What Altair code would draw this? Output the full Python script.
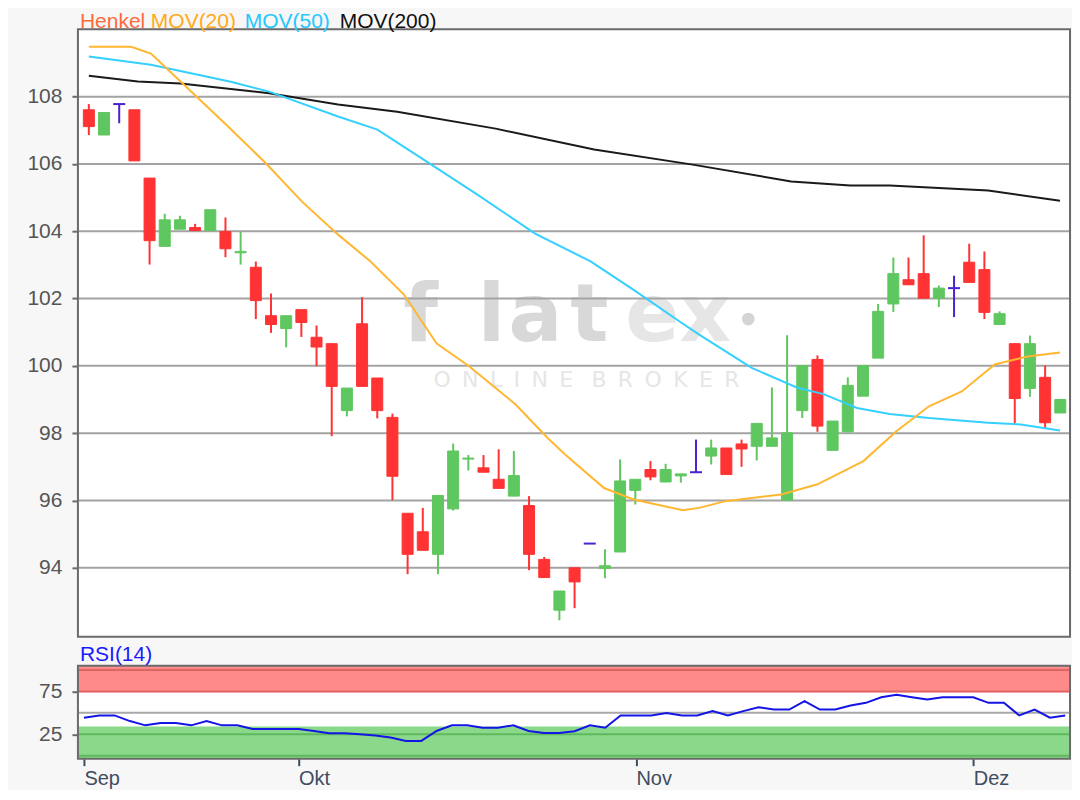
import altair as alt
import pandas as pd

FONT = "Liberation Sans"
WM_FONT = "DejaVu Sans"

# ---------------- data ----------------
opens = [107.61, 106.86, 107.78, 107.61, 105.58, 103.55, 104.06, 104.11, 104.02, 103.99,
         103.36, 102.93, 101.49, 101.11, 101.67, 100.85, 100.66, 98.67, 101.25, 99.64,
         98.47, 95.62, 95.07, 94.40, 95.75, 97.23, 96.97, 96.63, 96.13, 95.85,
         94.25, 92.74, 94.00, 94.72, 93.98, 94.47, 96.30, 96.92, 96.55, 96.73,
         96.84, 97.32, 97.56, 97.68, 97.61, 97.61, 96.01, 98.67, 100.19, 97.49,
         98.04, 99.10, 100.23, 101.84, 102.56, 102.74, 102.01, 102.31, 103.08, 102.86,
         101.23, 100.66, 99.33, 99.66, 98.60]
highs = [107.78, 107.53, 107.78, 107.61, 105.58, 104.52, 104.46, 104.22, 104.64, 104.41,
         103.99, 103.10, 102.15, 101.49, 101.67, 101.20, 100.66, 99.34, 102.04, 99.64,
         98.58, 95.62, 95.78, 96.15, 97.69, 97.35, 97.35, 97.52, 97.47, 96.13,
         94.32, 93.31, 94.00, 94.72, 94.55, 97.22, 96.63, 97.17, 97.09, 96.79,
         97.81, 97.81, 97.56, 97.81, 98.29, 99.36, 100.91, 100.01, 100.31, 98.36,
         99.66, 100.01, 101.84, 103.22, 103.22, 103.88, 102.39, 102.68, 103.63, 103.40,
         101.62, 100.66, 100.90, 100.01, 99.00]
lows = [106.86, 106.86, 107.21, 106.09, 103.01, 103.55, 104.06, 104.02, 104.02, 103.23,
        103.01, 101.39, 100.98, 100.55, 100.86, 99.99, 97.91, 98.50, 99.39, 98.44,
        96.01, 93.81, 94.52, 93.81, 95.70, 96.89, 96.84, 96.36, 96.13, 93.93,
        93.71, 92.44, 92.80, 94.72, 93.69, 94.47, 95.88, 96.60, 96.55, 96.53,
        96.84, 97.07, 96.77, 97.00, 97.19, 97.61, 96.01, 98.45, 98.04, 97.49,
        98.04, 99.10, 100.23, 101.60, 102.41, 102.01, 101.75, 101.45, 102.48, 101.39,
        101.23, 98.29, 99.08, 98.16, 98.60]
closes = [107.11, 107.53, 107.78, 106.09, 103.72, 104.34, 104.34, 104.02, 104.64, 103.48,
          103.40, 101.94, 101.23, 101.49, 101.29, 100.56, 99.39, 99.34, 99.39, 98.67,
          96.72, 94.40, 94.52, 96.15, 97.47, 97.26, 96.84, 96.36, 96.74, 94.40,
          93.71, 93.31, 93.58, 94.72, 94.06, 96.58, 96.63, 96.70, 96.92, 96.79,
          96.84, 97.56, 96.77, 97.53, 98.29, 97.86, 98.01, 100.01, 98.21, 98.36,
          99.42, 100.01, 101.62, 102.74, 102.41, 102.01, 102.31, 102.31, 102.48, 101.59,
          101.55, 99.03, 100.66, 98.31, 99.00]

ma20_pos = [0, 2.79, 4.09, 6.04, 9.07, 11.66, 14.04, 16.42, 18.56, 20.76, 22.9, 25.05,
            28.1, 30.24, 31.34, 33.94, 35.89, 39.13, 40.21, 41.94, 45.62, 48.0, 51.03,
            53.2, 55.35, 57.51, 59.68, 61.84, 63.98]
ma20_val = [109.48, 109.48, 109.28, 108.45, 107.16, 106.02, 104.88, 103.90, 103.10, 102.12,
            100.67, 99.99, 98.86, 97.85, 97.38, 96.37, 96.03, 95.71, 95.78, 95.98, 96.18,
            96.48, 97.17, 98.06, 98.80, 99.24, 100.04, 100.28, 100.40]

ma50_pos = [0, 4.09, 9.28, 11.88, 16.42, 19.01, 22.26, 25.5, 29.4, 33.08, 35.89, 38.92,
            40.21, 43.67, 46.68, 48.41, 50.6, 52.76, 55.35, 59.25, 61.39, 63.98]
ma50_val = [109.19, 108.95, 108.45, 108.15, 107.41, 107.02, 106.07, 105.12, 103.93, 103.10,
            102.26, 101.32, 100.93, 99.94, 99.35, 99.16, 98.75, 98.57, 98.45, 98.31,
            98.26, 98.08]

ma200_pos = [0, 3.23, 6.04, 11.88, 16.42, 20.31, 26.8, 33.29, 39.78, 46.27, 50.16, 52.76,
             59.25, 63.98]
ma200_val = [108.62, 108.45, 108.39, 108.10, 107.77, 107.55, 107.05, 106.43, 105.98, 105.48,
             105.36, 105.36, 105.21, 104.91]

rsi_val = [44.3, 47.0, 47.0, 40.4, 35.4, 38.1, 38.1, 35.4, 40.4, 35.4,
           35.4, 31.1, 31.1, 31.1, 31.1, 28.8, 26.1, 26.1, 25.0, 23.5,
           21.1, 17.2, 17.2, 28.8, 35.4, 35.4, 32.7, 32.7, 35.4, 28.8,
           26.5, 26.5, 28.5, 35.4, 32.7, 47.0, 47.0, 47.0, 49.7, 47.0,
           47.0, 52.0, 47.0, 52.0, 56.6, 53.9, 53.9, 63.6, 53.9, 53.9,
           58.6, 61.7, 68.2, 71.0, 68.2, 65.5, 68.2, 68.2, 68.2, 61.7,
           61.7, 47.0, 53.9, 44.3, 47.0]

month_pos = [0, 14, 36, 58]
month_names = ["Sep", "Okt", "Nov", "Dez"]
price_ticks = [94, 96, 98, 100, 102, 104, 106, 108]
price_frame = [91.95, 110.0]
rsi_ticks = [25, 75]
rsi_frame = [-3.5, 105.0]
zone_lo = [74, -3.5]
zone_hi = [105, 34]
zone_name = ["over", "under"]
level_val = [100, 75, 50, 25, 0]
level_kind = ["over", "over", "mid", "under", "under"]

legend_text = ["Henkel", "MOV(20)", "MOV(50)", "MOV(200)"]

# ---------------- styling ----------------
W = 993
H_MAIN, TOP_MAIN = 628, 20      # 20 px title strip above the 608 px price area
H_RSI, TOP_RSI = 118, 25        # 25 px title strip above the 93 px RSI area
GREEN, RED, PURPLE = "#5fc75f", "#ff3333", "#4a22d0"
C_MA20, C_MA50, C_MA200 = "#ffb732", "#35d0ff", "#1a1a1a"
FRAME = "#6b6b6b"
ZONE_COLORS = {"over": "#ff8a8a", "under": "#8ad98a"}
LEVEL_COLORS = {"over": "#e06464", "mid": "#a8a8a8", "under": "#5fb85f"}

# y scales extended upwards so the title strips sit inside the views
p_lo, p_hi = price_frame
p_top = p_hi + TOP_MAIN * (p_hi - p_lo) / (H_MAIN - TOP_MAIN)
r_lo, r_hi = rsi_frame
r_top = r_hi + TOP_RSI * (r_hi - r_lo) / (H_RSI - TOP_RSI)

n = len(opens)
candles = pd.DataFrame({"i": list(range(n)), "open": opens, "high": highs,
                        "low": lows, "close": closes})
candles["dir"] = ["up" if c > o else ("down" if c < o else "flat")
                  for o, c in zip(opens, closes)]

xs = alt.Scale(domain=[-0.39, 64.31], nice=False, zero=False)
ys = alt.Scale(domain=[p_lo, p_top], nice=False, zero=False)
dir_scale = alt.Scale(domain=["up", "down", "flat"], range=[GREEN, RED, PURPLE])

y_axis = alt.Axis(values=price_ticks, grid=False, domain=False, ticks=True, tickSize=6,
                  tickWidth=2, tickColor="#6a6a6a", labelFont=FONT, labelFontSize=21,
                  labelColor="#555555", labelPadding=10, title=None)
X = alt.X("i:Q", scale=xs, axis=None)
one = pd.DataFrame({"k": [0]})

pframe = pd.DataFrame({"lo": [p_lo], "hi": [p_hi]})
p_fill = alt.Chart(pframe).mark_rect(color="white").encode(
    x=alt.value(0), x2=alt.value(W), y=alt.Y("lo:Q", scale=ys, axis=y_axis), y2="hi:Q")
p_border = alt.Chart(pframe).mark_rect(fill="transparent", stroke=FRAME, strokeWidth=2).encode(
    x=alt.value(0), x2=alt.value(W), y=alt.Y("lo:Q", scale=ys, axis=y_axis), y2="hi:Q")
grid = alt.Chart(pd.DataFrame({"v": price_ticks})).mark_rule(
    color="#a3a3a3", strokeWidth=2).encode(
    x=alt.value(0), x2=alt.value(W), y=alt.Y("v:Q", scale=ys, axis=y_axis))

base = alt.Chart(candles)
wicks = base.mark_rule(strokeWidth=2).encode(
    x=X, y=alt.Y("low:Q", scale=ys, axis=y_axis), y2="high:Q",
    color=alt.Color("dir:N", scale=dir_scale, legend=None))
bodies = base.transform_filter("datum.dir != 'flat'").mark_bar(size=11, strokeWidth=1).encode(
    x=X, y=alt.Y("open:Q", scale=ys, axis=y_axis), y2="close:Q",
    color=alt.Color("dir:N", scale=dir_scale, legend=None),
    stroke=alt.Stroke("dir:N", scale=dir_scale, legend=None))
dojis = base.transform_filter("datum.dir == 'flat'").mark_rule(
    strokeWidth=2, xOffset=-6, x2Offset=6).encode(
    x=X, x2="i:Q", y=alt.Y("open:Q", scale=ys, axis=y_axis),
    color=alt.Color("dir:N", scale=dir_scale, legend=None))


def ma_layer(pos, val, color):
    d = pd.DataFrame({"i": pos, "v": val})
    return alt.Chart(d).mark_line(color=color, strokeWidth=2).encode(
        x=X, y=alt.Y("v:Q", scale=ys, axis=y_axis))


ma200 = ma_layer(ma200_pos, ma200_val, C_MA200)
ma50 = ma_layer(ma50_pos, ma50_val, C_MA50)
ma20 = ma_layer(ma20_pos, ma20_val, C_MA20)

# watermark (decoration)
wm_layers = []
for ch, px, col in [("f", 343, "#d8d8d8"), ("l", 414, "#d8d8d8"), ("a", 458, "#d8d8d8"),
                    ("t", 512, "#d8d8d8"), ("e", 575, "#e6e6e6"), ("x", 628, "#e6e6e6")]:
    wm_layers.append(alt.Chart(one).mark_text(
        font=WM_FONT, fontSize=80, fontWeight="bold", align="center",
        baseline="alphabetic", color=col
    ).encode(x=alt.value(px), y=alt.value(332), text=alt.value(ch)))
wm_layers.append(alt.Chart(one).mark_circle(size=160, color="#d4d4d4", opacity=1).encode(
    x=alt.value(671), y=alt.value(310)))
sep = "\u00a0\u2009"
wm_text = sep.join("ONLINE") + "\u00a0\u00a0\u2009" + sep.join("BROKER")
wm_layers.append(alt.Chart(one).mark_text(
    font=WM_FONT, fontSize=22, align="center", baseline="alphabetic", color="#e6e6e6"
).encode(x=alt.value(509), y=alt.value(378), text=alt.value(wm_text)))

# legend row in the title strip
legend_layers = []
for txt, px, col in zip(legend_text, [2, 73, 167, 262],
                        ["#ff6a3d", "#ffaa1a", "#22c8ff", "#111111"]):
    legend_layers.append(alt.Chart(one).mark_text(
        font=FONT, fontSize=21, align="left", baseline="alphabetic", color=col
    ).encode(x=alt.value(px), y=alt.value(19), text=alt.value(txt)))

main = alt.layer(p_fill, *wm_layers, grid, wicks, bodies, dojis, ma200, ma50, ma20,
                 p_border, *legend_layers).properties(width=W, height=H_MAIN)

# ---------------- RSI panel ----------------
rs = alt.Scale(domain=[r_lo, r_top], nice=False, zero=False)
rsi_axis = alt.Axis(values=rsi_ticks, grid=False, domain=False, tickSize=6, tickWidth=2,
                    tickColor="#6a6a6a", labelFont=FONT, labelFontSize=21,
                    labelColor="#555555", labelPadding=10, title=None)

label_expr = "''"
for p, nm in zip(reversed(month_pos), reversed(month_names)):
    label_expr = f"datum.value == {p} ? '{nm}' : ({label_expr})"

x_axis_rsi = alt.Axis(values=month_pos, labelExpr=label_expr, labelAlign="left",
                      labelFlush=False, labelFont=FONT, labelFontSize=20,
                      labelColor="#3f4d60", tickColor="#3f4d60", tickSize=7, tickWidth=2,
                      labelPadding=3, domain=False, grid=False, title=None)
XR = alt.X("i:Q", scale=xs, axis=x_axis_rsi)

rframe = pd.DataFrame({"lo": [r_lo], "hi": [r_hi]})
r_fill = alt.Chart(rframe).mark_rect(color="white").encode(
    x=alt.value(0), x2=alt.value(W), y=alt.Y("lo:Q", scale=rs, axis=rsi_axis), y2="hi:Q")
r_border = alt.Chart(rframe).mark_rect(fill="transparent", stroke=FRAME, strokeWidth=2).encode(
    x=alt.value(0), x2=alt.value(W), y=alt.Y("lo:Q", scale=rs, axis=rsi_axis), y2="hi:Q")

zones = pd.DataFrame({"lo": zone_lo, "hi": zone_hi, "zone": zone_name})
zone_layers = []
for z, col in ZONE_COLORS.items():
    zone_layers.append(alt.Chart(zones).transform_filter(f"datum.zone == '{z}'").mark_rect(
        color=col).encode(
        x=alt.value(0), x2=alt.value(W),
        y=alt.Y("lo:Q", scale=rs, axis=rsi_axis), y2="hi:Q"))

levels = pd.DataFrame({"v": level_val, "kind": level_kind})
level_layers = []
for k, col in LEVEL_COLORS.items():
    level_layers.append(alt.Chart(levels).transform_filter(f"datum.kind == '{k}'").mark_rule(
        strokeWidth=2, color=col).encode(
        x=alt.value(0), x2=alt.value(W),
        y=alt.Y("v:Q", scale=rs, axis=rsi_axis)))

rsi_df = pd.DataFrame({"i": list(range(len(rsi_val))), "rsi": rsi_val})
rsi_line = alt.Chart(rsi_df).mark_line(color="#1414e6", strokeWidth=2).encode(
    x=XR, y=alt.Y("rsi:Q", scale=rs, axis=rsi_axis))
rsi_title = alt.Chart(one).mark_text(
    font=FONT, fontSize=21, align="left", baseline="alphabetic", color="#1a1aff"
).encode(x=alt.value(2), y=alt.value(20), text=alt.value("RSI(14)"))

rsi = alt.layer(r_fill, *zone_layers, *level_layers, rsi_line, r_border,
                rsi_title).properties(width=W, height=H_RSI)

chart = alt.vconcat(main, rsi, spacing=1).properties(
    padding={"left": 18, "top": 0, "right": 0, "bottom": 0},
    background="#f7f7f7",
).configure_view(stroke="transparent")

chart.save("out.html", embed_options={"renderer": "svg", "actions": False})
